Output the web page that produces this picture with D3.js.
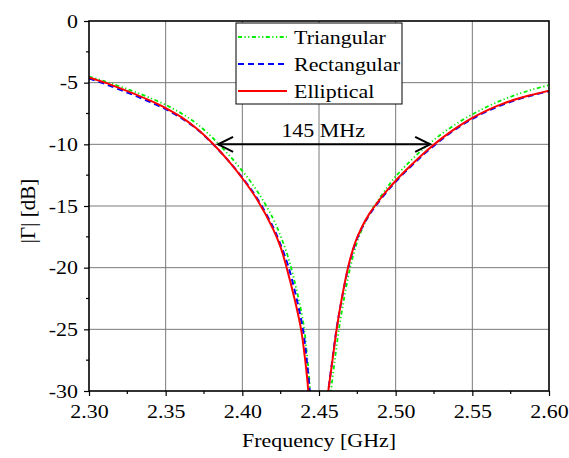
<!DOCTYPE html>
<html>
<head>
<meta charset="utf-8">
<script src="https://cdn.jsdelivr.net/npm/d3@7"></script>
<style>
  body { margin: 0; background: #fff; }
  text { font-family: "Liberation Serif", "Times New Roman", serif; fill: #000; }
</style>
</head>
<body>
<svg id="chart" width="569" height="458"></svg>
<script>
// data: [frequency GHz, |Γ| dB]; null splits the branches at the dip
const triangular = [
  [2.30, -4.5], [2.31, -4.88], [2.32, -5.3], [2.33, -5.75], [2.34, -6.24], [2.35, -6.8],
  [2.36, -7.47], [2.37, -8.3], [2.38, -9.4], [2.39, -10.7], [2.40, -12.15], [2.41, -13.85],
  [2.42, -16.0], [2.425, -17.45], [2.43, -19.2], [2.435, -21.6], [2.4398, -24.5],
  [2.4425, -27.5], [2.4443, -30.0], [2.4445, -30.5],
  null,
  [2.4575, -30.5], [2.4578, -30.0], [2.4603, -27.5], [2.463, -25.0], [2.4665, -22.4],
  [2.4705, -19.9], [2.4748, -17.95], [2.4793, -16.55], [2.4843, -15.35], [2.489, -14.45],
  [2.495, -13.4], [2.50, -12.6], [2.51, -11.3], [2.52, -10.15], [2.53, -9.15], [2.54, -8.3],
  [2.55, -7.57], [2.56, -6.93], [2.57, -6.38], [2.58, -5.92], [2.59, -5.53], [2.60, -5.2]
];
const rectangular = [
  [2.30, -4.65], [2.31, -5.08], [2.32, -5.56], [2.33, -6.05], [2.34, -6.57], [2.35, -7.15],
  [2.36, -7.85], [2.37, -8.73], [2.38, -9.88], [2.39, -11.2], [2.40, -12.7], [2.41, -14.45],
  [2.42, -16.7], [2.425, -18.15], [2.43, -19.9], [2.435, -22.3], [2.4395, -25.0],
  [2.442, -27.5], [2.444, -30.0], [2.4442, -30.5],
  null,
  [2.4558, -30.5], [2.4561, -30.0], [2.4587, -27.5], [2.4614, -25.0], [2.465, -22.45],
  [2.4692, -19.95], [2.4736, -18.05], [2.478, -16.77], [2.483, -15.67], [2.4876, -14.88],
  [2.494, -13.88], [2.50, -13.03], [2.51, -11.78], [2.52, -10.63], [2.53, -9.6], [2.54, -8.7],
  [2.55, -7.93], [2.56, -7.29], [2.57, -6.77], [2.58, -6.34], [2.59, -5.99], [2.60, -5.7]
];
const elliptical = [
  [2.30, -4.57], [2.31, -4.98], [2.32, -5.44], [2.33, -5.93], [2.34, -6.46], [2.35, -7.06],
  [2.36, -7.78], [2.37, -8.7], [2.38, -9.85], [2.39, -11.2], [2.40, -12.75], [2.41, -14.55],
  [2.42, -16.85], [2.425, -18.35], [2.4289, -20.0], [2.434, -22.5], [2.4383, -25.0],
  [2.441, -27.5], [2.443, -30.0], [2.4432, -30.5],
  null,
  [2.4558, -30.5], [2.4561, -30.0], [2.4588, -27.5], [2.4615, -25.0], [2.465, -22.4],
  [2.4691, -19.9], [2.4735, -18.0], [2.478, -16.7], [2.483, -15.6], [2.4876, -14.8],
  [2.494, -13.8], [2.50, -12.95], [2.51, -11.7], [2.52, -10.55], [2.53, -9.52], [2.54, -8.62],
  [2.55, -7.85], [2.56, -7.22], [2.57, -6.7], [2.58, -6.28], [2.59, -5.95], [2.60, -5.65]
];
const seriesNames = ["Triangular", "Rectangular", "Elliptical"];
const xTicks = [2.30, 2.35, 2.40, 2.45, 2.50, 2.55, 2.60];
const yTicks = [0, -5, -10, -15, -20, -25, -30];
const bandEdges = [2.3842, 2.5225];   // -10 dB crossings marked by the arrow
const bandLabel = "145 MHz";

const svg = d3.select("#chart");
const mLeft = 89, mTop = 21, plotW = 460, plotH = 370;
const fontSize = 19, stretch = 1.155;

const x = d3.scaleLinear().domain([2.30, 2.60]).range([mLeft, mLeft + plotW]);
const y = d3.scaleLinear().domain([-30, 0]).range([mTop + plotH, mTop]);

// text in the picture is a bit wider than plain Times
function squash(sel) {
  sel.each(function () {
    const t = d3.select(this);
    const x0 = +t.attr("x") || 0;
    t.attr("x", x0 / stretch).attr("transform", `scale(${stretch},1)`);
  });
}

// grid
svg.append("g")
  .selectAll("line")
  .data(xTicks.slice(1, -1))
  .join("line")
  .attr("x1", d => x(d)).attr("x2", d => x(d))
  .attr("y1", mTop).attr("y2", mTop + plotH)
  .attr("stroke", "#7a7a7a").attr("stroke-width", 1);
svg.append("g")
  .selectAll("line")
  .data(yTicks.slice(1, -1))
  .join("line")
  .attr("x1", mLeft).attr("x2", mLeft + plotW)
  .attr("y1", d => y(d)).attr("y2", d => y(d))
  .attr("stroke", "#7a7a7a").attr("stroke-width", 1);

svg.append("clipPath").attr("id", "plotClip")
  .append("rect").attr("x", mLeft).attr("y", mTop).attr("width", plotW).attr("height", plotH);

const line = d3.line()
  .defined(d => d !== null)
  .x(d => x(d[0]))
  .y(d => y(d[1]))
  .curve(d3.curveCatmullRom.alpha(0.5));

const styles = [
  { data: triangular, color: "#00ee00", dash: "4,2.5,1.2,2.5,1.2,2.5", w: 1.8 },
  { data: rectangular, color: "#0000ff", dash: "6,4", w: 2 },
  { data: elliptical, color: "#ff0000", dash: null, w: 2 }
];

const curves = svg.append("g").attr("clip-path", "url(#plotClip)");
styles.forEach(s => {
  curves.append("path")
    .datum(s.data)
    .attr("d", line)
    .attr("fill", "none")
    .attr("stroke", s.color)
    .attr("stroke-width", s.w)
    .attr("stroke-dasharray", s.dash);
});

// axes
const xAxis = svg.append("g")
  .attr("transform", `translate(0,${mTop + plotH})`)
  .call(d3.axisBottom(x).tickValues(xTicks).tickFormat(d3.format(".2f")).tickSize(5).tickPadding(6));
const yAxis = svg.append("g")
  .attr("transform", `translate(${mLeft},0)`)
  .call(d3.axisLeft(y).tickValues(yTicks).tickFormat(d => d).tickSize(5).tickPadding(6));
[xAxis, yAxis].forEach(a => {
  a.select(".domain").remove();
  a.selectAll("line").attr("stroke", "#000").attr("stroke-width", 1.2);
  a.attr("font-family", null).attr("font-size", null);
  a.selectAll("text").style("font-size", fontSize + "px");
});
xAxis.selectAll("text").attr("dy", "0.85em");
squash(xAxis.selectAll("text"));
squash(yAxis.selectAll("text"));

// minor ticks
const xMinor = d3.range(0, xTicks.length - 1).map(i => (xTicks[i] + xTicks[i + 1]) / 2);
const yMinor = d3.range(0, yTicks.length - 1).map(i => (yTicks[i] + yTicks[i + 1]) / 2);
svg.append("g").selectAll("line")
  .data(xMinor).join("line")
  .attr("x1", d => x(d)).attr("x2", d => x(d))
  .attr("y1", mTop + plotH).attr("y2", mTop + plotH + 3)
  .attr("stroke", "#000").attr("stroke-width", 1.2);
svg.append("g").selectAll("line")
  .data(yMinor).join("line")
  .attr("x1", mLeft - 3).attr("x2", mLeft)
  .attr("y1", d => y(d)).attr("y2", d => y(d))
  .attr("stroke", "#000").attr("stroke-width", 1.2);

// frame
svg.append("rect")
  .attr("x", mLeft).attr("y", mTop).attr("width", plotW).attr("height", plotH)
  .attr("fill", "none").attr("stroke", "#000").attr("stroke-width", 1.6);

// axis titles
svg.append("g").attr("transform", `translate(${mLeft + plotW / 2},447)`)
  .append("text")
  .attr("text-anchor", "middle")
  .style("font-size", fontSize + "px")
  .text("Frequency [GHz]")
  .call(squash);
svg.append("text")
  .attr("transform", `translate(35,${mTop + plotH / 2 + 5}) rotate(-90)`)
  .attr("text-anchor", "middle")
  .style("font-size", "21px")
  .text("|\u0393| [dB]");

// legend
const legend = svg.append("g").attr("transform", "translate(236,23)");
legend.append("rect")
  .attr("width", 166).attr("height", 81)
  .attr("fill", "#fff").attr("stroke", "#000").attr("stroke-width", 1);
seriesNames.forEach((name, i) => {
  const row = legend.append("g").attr("transform", `translate(0,${14 + i * 27})`);
  row.append("line")
    .attr("x1", 2).attr("x2", 51).attr("y1", 0).attr("y2", 0)
    .attr("stroke", styles[i].color)
    .attr("stroke-width", styles[i].w)
    .attr("stroke-dasharray", styles[i].dash);
  row.append("g").attr("transform", "translate(58,7)")
    .append("text")
    .style("font-size", fontSize + "px")
    .text(name)
    .call(squash);
});

// bandwidth arrow
const ay = y(-10), ax1 = x(bandEdges[0]), ax2 = x(bandEdges[1]);
const arrow = svg.append("g").attr("stroke", "#000").attr("fill", "none").attr("stroke-width", 2);
arrow.append("line").attr("x1", ax1).attr("x2", ax2).attr("y1", ay).attr("y2", ay);
arrow.append("path").attr("d", `M${ax1 + 15},${ay - 7.5}L${ax1},${ay}L${ax1 + 15},${ay + 7.5}`);
arrow.append("path").attr("d", `M${ax2 - 15},${ay - 7.5}L${ax2},${ay}L${ax2 - 15},${ay + 7.5}`);
svg.append("g").attr("transform", `translate(${(ax1 + ax2) / 2 - 1},${ay - 7})`)
  .append("text")
  .attr("text-anchor", "middle")
  .style("font-size", fontSize + "px")
  .text(bandLabel)
  .call(squash);
</script>
</body>
</html>
